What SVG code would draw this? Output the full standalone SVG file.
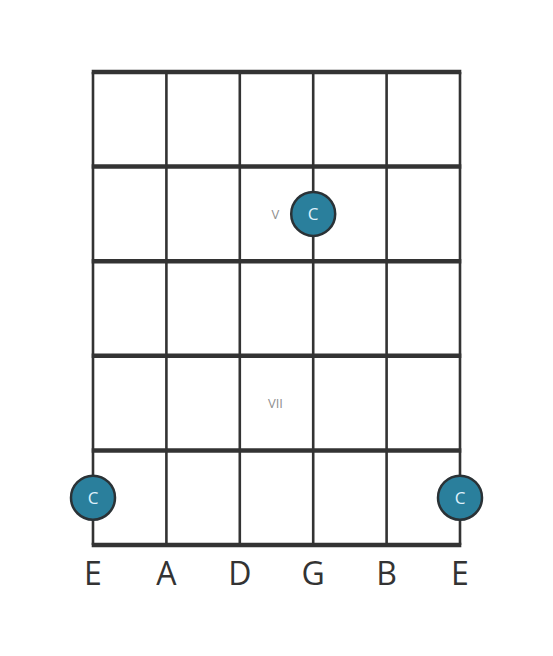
<svg xmlns="http://www.w3.org/2000/svg" width="553" height="656" viewBox="0 0 553 656">
<style>
.s{stroke:#333;stroke-width:2.6;fill:none}
.f{stroke:#333;stroke-width:4.5;fill:none}
.dot circle{fill:#2a7f9c;stroke:#2a3236;stroke-width:2.5}
.dot text{fill:#dff1fb;font-family:"Open Sans",sans-serif;font-size:17px;text-anchor:middle}
.pos{fill:#8f8f8f;font-family:"Open Sans",sans-serif;font-size:13px;text-anchor:middle}
.str{fill:#333;font-family:"Open Sans",sans-serif;font-size:32px;text-anchor:middle}
</style>
<rect width="553" height="656" fill="#fff"/>
<g id="connectors">
<line class="s" x1="93" y1="72" x2="93" y2="545"/>
<line class="s" x1="166.4" y1="72" x2="166.4" y2="545"/>
<line class="s" x1="239.8" y1="72" x2="239.8" y2="545"/>
<line class="s" x1="313.2" y1="72" x2="313.2" y2="545"/>
<line class="s" x1="386.6" y1="72" x2="386.6" y2="545"/>
<line class="s" x1="460" y1="72" x2="460" y2="545"/>
<line class="f" x1="91.7" y1="72" x2="461.3" y2="72"/>
<line class="f" x1="91.7" y1="166.6" x2="461.3" y2="166.6"/>
<line class="f" x1="91.7" y1="261.2" x2="461.3" y2="261.2"/>
<line class="f" x1="91.7" y1="355.8" x2="461.3" y2="355.8"/>
<line class="f" x1="91.7" y1="450.4" x2="461.3" y2="450.4"/>
<line class="f" x1="91.7" y1="545" x2="461.3" y2="545"/>
</g>
<g id="label-V"><text class="pos" x="275.5" y="218.5">V</text></g>
<g id="label-VII"><text class="pos" x="275.5" y="408">VII</text></g>
<g id="note-G5" class="dot"><circle cx="313.2" cy="213.9" r="22"/><text x="313.2" y="219.8">C</text></g>
<g id="note-E8" class="dot"><circle cx="93" cy="497.7" r="22"/><text x="93" y="503.6">C</text></g>
<g id="note-e8" class="dot"><circle cx="460" cy="497.7" r="22"/><text x="460" y="503.6">C</text></g>
<g id="strings">
<text class="str" x="93" y="585">E</text>
<text class="str" x="166.4" y="585">A</text>
<text class="str" x="239.8" y="585">D</text>
<text class="str" x="313.2" y="585">G</text>
<text class="str" x="386.6" y="585">B</text>
<text class="str" x="460" y="585">E</text>
</g>
</svg>
